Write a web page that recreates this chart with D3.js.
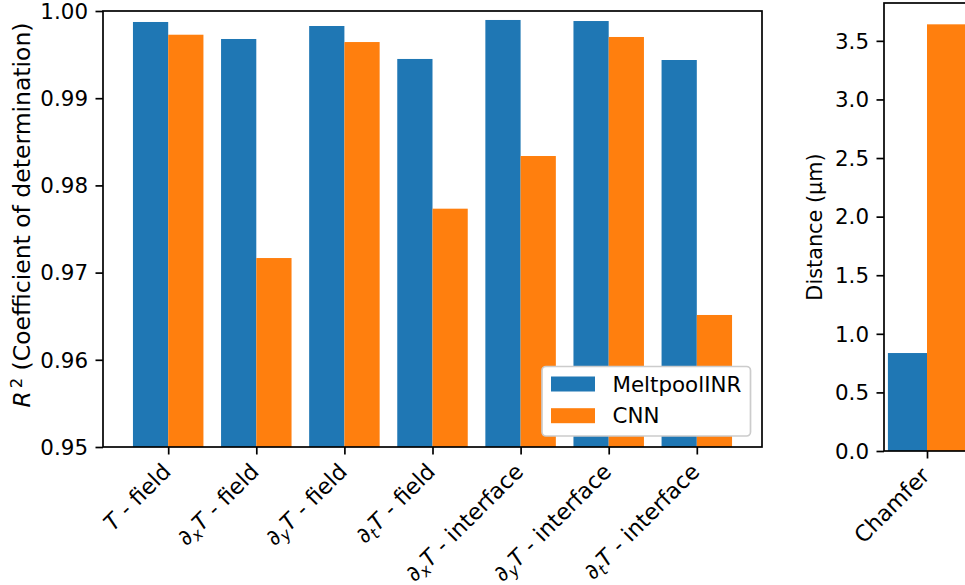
<!DOCTYPE html>
<html>
<head>
<meta charset="utf-8">
<script src="https://cdn.jsdelivr.net/npm/d3@7"></script>
<style>
  html, body { margin: 0; padding: 0; background: #fff; }
  svg { display: block; font-family: "DejaVu Sans", sans-serif; }
</style>
</head>
<body>
<svg id="chart" width="965" height="585"></svg>
<script>
// ---- data ----
const categories = ["T - field", "∂xT - field", "∂yT - field", "∂tT - field",
                    "∂xT - interface", "∂yT - interface", "∂tT - interface"];
const seriesNames = ["MeltpoolINR", "CNN"];
const meltpoolR2 = [0.99874, 0.99679, 0.99828, 0.99450, 0.99897, 0.99885, 0.99438];
const cnnR2      = [0.99728, 0.97167, 0.99644, 0.97733, 0.98337, 0.99702, 0.96514];
const r2Ticks = [0.95, 0.96, 0.97, 0.98, 0.99, 1.00];

const distCategories = ["Chamfer"];
const meltpoolDist = [0.836];
const cnnDist      = [3.641];
const distTicks = [0, 0.5, 1.0, 1.5, 2.0, 2.5, 3.0, 3.5];

// ---- styling ----
const colors = ["#1f77b4", "#ff7f0e"];
const FS = 21.4;          // tick / legend font size (px)
const FS_XT = 22.2;       // rotated category labels
const FS_LAB = 23.5;      // R^2 axis label
const FS_LAB2 = 20.8;     // distance axis label
const SPINE = 1.7;        // spine / tick line width
const TICK = 7.5;         // tick length
const PAD = 7.5;          // tick label pad
const barW = 0.4;

const svg = d3.select("#chart");
svg.append("rect").attr("width", 965).attr("height", 585).attr("fill", "#fff");

// Category label: optional ∂ with subscript, italic T, then plain text
function writeLabel(textSel, label, fs) {
  let rest = label;
  if (rest.startsWith("∂")) {
    textSel.append("tspan").text("∂");
    textSel.append("tspan").attr("font-size", fs * 0.7).attr("font-style", "italic")
      .attr("dy", fs * 0.2).text(rest[1]);
    rest = rest.slice(2);
    textSel.append("tspan").attr("font-style", "italic").attr("dy", -fs * 0.2).text(rest[0]);
  } else {
    textSel.append("tspan").attr("font-style", "italic").text(rest[0]);
  }
  textSel.append("tspan").text(rest.slice(1));
}

function rotatedTickLabels(g, xs, labels, yBase, rich) {
  labels.forEach((lab, i) => {
    const t = g.append("text")
      .attr("font-size", FS_XT)
      .attr("text-anchor", "end")
      .attr("fill", "#000")
      .attr("transform", `translate(${xs[i] + 4},${yBase + 26}) rotate(-45)`);
    if (rich) writeLabel(t, lab, FS_XT); else t.text(lab);
  });
}

// ================= left panel: R^2 =================
{
  const L = 103, R = 762, T = 11, B = 447;
  const x = d3.scaleLinear().domain([-0.74, 6.74]).range([L, R]);
  const y = d3.scaleLinear().domain([0.95, 1.0]).range([B, T]);
  const g = svg.append("g");

  [meltpoolR2, cnnR2].forEach((vals, s) => {
    g.selectAll(null).data(vals).enter().append("rect")
      .attr("x", (d, i) => x(i + (s === 0 ? -barW : 0)))
      .attr("width", x(barW) - x(0))
      .attr("y", d => y(d))
      .attr("height", d => y(0.95) - y(d))
      .attr("fill", colors[s]);
  });

  const ya = g.append("g").attr("transform", `translate(${L},0)`)
    .call(d3.axisLeft(y).tickValues(r2Ticks).tickFormat(d3.format(".2f"))
      .tickSize(TICK).tickPadding(PAD));
  ya.select(".domain").remove();
  ya.selectAll("line").attr("stroke", "#000").attr("stroke-width", SPINE);
  ya.selectAll("text").attr("font-size", FS).attr("font-family", "DejaVu Sans").attr("fill", "#000").attr("dy", "0.34em");

  const xa = g.append("g").attr("transform", `translate(0,${B})`)
    .call(d3.axisBottom(x).tickValues(d3.range(categories.length)).tickFormat("").tickSize(TICK));
  xa.select(".domain").remove();
  xa.selectAll("line").attr("stroke", "#000").attr("stroke-width", SPINE);

  rotatedTickLabels(g, categories.map((c, i) => x(i)), categories, B, true);

  g.append("rect").attr("x", L).attr("y", T).attr("width", R - L).attr("height", B - T)
    .attr("fill", "none").attr("stroke", "#000").attr("stroke-width", SPINE);

  // y label
  const yl = g.append("text").attr("font-size", FS_LAB).attr("text-anchor", "middle")
    .attr("transform", `translate(30,215) rotate(-90)`);
  yl.append("tspan").attr("font-style", "italic").text("R");
  yl.append("tspan").attr("font-size", FS_LAB * 0.7).attr("dy", -FS_LAB * 0.36).attr("dx", FS_LAB * 0.12).text("2");
  yl.append("tspan").attr("dy", FS_LAB * 0.36).text(" (Coefficient of determination)");

  // legend
  const lg = g.append("g");
  lg.append("rect").attr("x", 542).attr("y", 366.5).attr("width", 208.5).attr("height", 69.5)
    .attr("rx", 4).attr("fill", "#fff").attr("stroke", "#cccccc").attr("stroke-width", 1.7);
  seriesNames.forEach((name, s) => {
    const cy = 384 + s * 31.7;
    lg.append("rect").attr("x", 551).attr("y", cy - 7.5).attr("width", 44).attr("height", 15)
      .attr("fill", colors[s]);
    lg.append("text").attr("x", 612.5).attr("y", cy).attr("dy", "0.36em")
      .attr("font-size", FS).attr("fill", "#000").text(name);
  });
}

// ================= right panel: Chamfer distance =================
{
  const L = 884, R = 970, T = 3, B = 451;
  const x = d3.scaleLinear().domain([-0.44, 0.44]).range([L, R]);
  const y = d3.scaleLinear().domain([0, 3.823]).range([B, T]);
  const g = svg.append("g");

  [meltpoolDist, cnnDist].forEach((vals, s) => {
    g.selectAll(null).data(vals).enter().append("rect")
      .attr("x", (d, i) => x(i + (s === 0 ? -barW : 0)))
      .attr("width", x(barW) - x(0))
      .attr("y", d => y(d))
      .attr("height", d => y(0) - y(d))
      .attr("fill", colors[s]);
  });

  const ya = g.append("g").attr("transform", `translate(${L},0)`)
    .call(d3.axisLeft(y).tickValues(distTicks).tickFormat(d3.format(".1f"))
      .tickSize(TICK).tickPadding(PAD));
  ya.select(".domain").remove();
  ya.selectAll("line").attr("stroke", "#000").attr("stroke-width", SPINE);
  ya.selectAll("text").attr("font-size", FS).attr("font-family", "DejaVu Sans").attr("fill", "#000").attr("dy", "0.34em");

  const xa = g.append("g").attr("transform", `translate(0,${B})`)
    .call(d3.axisBottom(x).tickValues(d3.range(distCategories.length)).tickFormat("").tickSize(TICK));
  xa.select(".domain").remove();
  xa.selectAll("line").attr("stroke", "#000").attr("stroke-width", SPINE);

  rotatedTickLabels(g, distCategories.map((c, i) => x(i)), distCategories, B, false);

  g.append("rect").attr("x", L).attr("y", T).attr("width", R - L).attr("height", B - T)
    .attr("fill", "none").attr("stroke", "#000").attr("stroke-width", SPINE);

  g.append("text").attr("font-size", FS_LAB2).attr("text-anchor", "middle")
    .attr("transform", `translate(822,227) rotate(-90)`).text("Distance (µm)");
}
</script>
</body>
</html>
